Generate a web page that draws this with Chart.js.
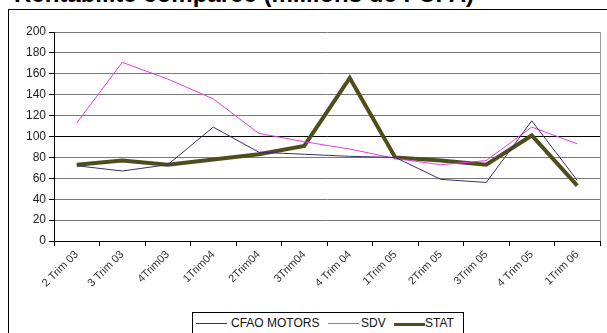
<!DOCTYPE html>
<html>
<head>
<meta charset="utf-8">
<script src="https://cdn.jsdelivr.net/npm/chart.js@4/dist/chart.umd.min.js"></script>
<style>
  html, body { margin: 0; padding: 0; background: #fff; }
  #wrap { position: relative; width: 607px; height: 333px; overflow: hidden; font-family: Arial, "Liberation Sans", sans-serif; }
  #title { position: absolute; left: 14px; top: -20px; font-size: 24px; font-weight: bold; color: #000; white-space: nowrap; }
  #frame { position: absolute; left: 8px; top: 9px; width: 620px; height: 340px; border-left: 1px solid #000; border-top: 1px solid #000; background: #fff; }
  #chart { position: absolute; left: 0; top: 0; }
  #legend { position: absolute; left: 192px; top: 312px; width: 272px; height: 30px; border: 1px solid #000; background: #fff;
            font-size: 12px; color: #111; box-sizing: border-box; }
  .swatch { position: absolute; top: 10px; width: 31px; }
  .text { position: absolute; top: 3px; }
</style>
</head>
<body>
<div id="wrap">
  <div id="title">Rentabilité comparée (millions de FCFA)</div>
  <div id="frame"></div>
  <canvas id="chart" width="607" height="333"></canvas>
  <div id="legend"></div>
</div>
<script>
// quarters on the x axis
const quarters = ['2 Trim 03', '3 Trim 03', '4Trim03', '1Trim04', '2Trim04', '3Trim04',
                  '4 Trim 04', '1Trim 05', '2Trim 05', '3Trim 05', '4 Trim 05', '1Trim 06'];

// series values
const cfaoMotors = [72, 67, 73, 109, 85, 83, 81, 80, 59, 56, 115, 58];
const sdv        = [113, 171, 155, 136, 103, 95, 88, 79, 73, 77, 109, 93];
const stat       = [73, 77, 73, 78, 83, 91, 156, 80, 77, 73, 101, 53];

const yTicks = [0, 20, 40, 60, 80, 100, 120, 140, 160, 180, 200];

const series = [
  { label: 'CFAO MOTORS', data: cfaoMotors, color: '#3a2c6e', width: 1, swatchX: 3,   textX: 38 },
  { label: 'SDV',         data: sdv,        color: '#e83ce6', width: 1, swatchX: 135, textX: 168 },
  { label: 'STAT',        data: stat,       color: '#4e4e1c', width: 4, swatchX: 201, textX: 232 }
];

// thin frame on the right side of the plot area
const plotFrame = {
  id: 'plotFrame',
  afterDraw(chart) {
    const { ctx, chartArea: a } = chart;
    ctx.save();
    ctx.strokeStyle = '#9a9a9a';
    ctx.lineWidth = 1;
    ctx.beginPath();
    ctx.moveTo(Math.round(a.right) + 0.5, a.top);
    ctx.lineTo(Math.round(a.right) + 0.5, a.bottom);
    ctx.stroke();
    ctx.restore();
  }
};

new Chart(document.getElementById('chart'), {
  type: 'line',
  data: {
    labels: quarters,
    datasets: series.map(s => ({
      label: s.label,
      data: s.data,
      borderColor: s.color,
      backgroundColor: s.color,
      borderWidth: s.width,
      pointRadius: 0,
      tension: 0,
      fill: false
    }))
  },
  options: {
    responsive: false,
    animation: false,
    layout: { padding: { left: 0, top: 32, right: 7, bottom: 0 } },
    plugins: { legend: { display: false }, tooltip: { enabled: false } },
    scales: {
      x: {
        offset: true,
        grid: { offset: true, drawOnChartArea: false, drawTicks: true, tickLength: 5, color: '#000' },
        border: { color: '#000', width: 1 },
        ticks: { minRotation: 45, maxRotation: 45, autoSkip: false, padding: 2,
                 color: '#333', font: { family: 'Arial', size: 11 } },
        afterFit: s => { s.height = 92; }
      },
      y: {
        min: 0, max: 200,
        afterBuildTicks: s => { s.ticks = yTicks.map(v => ({ value: v })); },
        grid: {
          color: c => c.tick && c.tick.value === 100 ? '#000' : '#7a7a7a',
          tickColor: '#000', tickLength: 5
        },
        border: { color: '#000', width: 1 },
        ticks: { padding: 3, color: '#222', font: { family: 'Arial', size: 12 } },
        afterFit: s => { s.width = 54; }
      }
    }
  },
  plugins: [plotFrame]
});

// legend box under the axis
const legend = document.getElementById('legend');
legend.innerHTML = series.map(s =>
  `<span class="swatch" style="left:${s.swatchX}px;border-top:${s.width === 4 ? 3 : 1}px solid ${s.color}"></span>` +
  `<span class="text" style="left:${s.textX}px">${s.label}</span>`
).join('');
</script>
</body>
</html>
